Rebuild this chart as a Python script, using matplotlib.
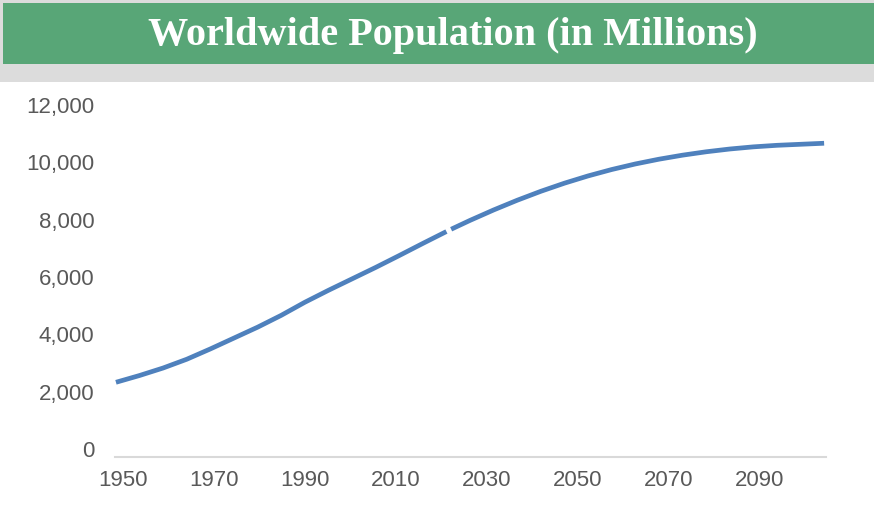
import matplotlib.pyplot as plt
from matplotlib.patches import Rectangle
from matplotlib.ticker import FuncFormatter
from matplotlib.transforms import ScaledTranslation

# historical estimates and projection (millions)
hist_years = [1950, 1955, 1960, 1965, 1970, 1975, 1980, 1985, 1990, 1995,
              2000, 2005, 2010, 2015, 2020]
hist_pop = [2536, 2773, 3035, 3340, 3700, 4079, 4458, 4871, 5327, 5744,
            6143, 6542, 6957, 7380, 7795]

proj_years = [2021, 2025, 2030, 2035, 2040, 2045, 2050, 2055, 2060, 2065,
              2070, 2075, 2080, 2085, 2090, 2095, 2100]
proj_pop = [7875, 8184, 8548, 8887, 9199, 9482, 9735, 9958, 10152, 10318,
            10459, 10577, 10674, 10749, 10803, 10839, 10875]

tick_years = [1950, 1970, 1990, 2010, 2030, 2050, 2070, 2090]
y_ticks = [0, 2000, 4000, 6000, 8000, 10000, 12000]

title = 'Worldwide Population (in Millions)'
line_color = '#4F81BD'
label_color = '#595959'

fig = plt.figure(figsize=(8.74, 5.13), dpi=100)
W, H = 874, 513

# gray header band and green title box
fig.patches.append(Rectangle((0, 1 - 82 / H), 1, 82 / H, transform=fig.transFigure,
                             facecolor='#dcdcdc', edgecolor='none', zorder=0))
fig.patches.append(Rectangle((3 / W, 1 - 64 / H), 1, 61 / H, transform=fig.transFigure,
                             facecolor='#58A677', edgecolor='none', zorder=1))
fig.text(453 / W, 1 - 36 / H, title, ha='center', va='center', color='white',
         fontsize=29, fontweight='bold', family='Liberation Serif')

# plot area: zero sits at y=455 px, the axis line at 457 px
ax = fig.add_axes([115 / W, (H - 457) / H, 711 / W, (457 - 111) / H])
ax.plot(hist_years, hist_pop, color=line_color, lw=3.4, solid_capstyle='butt')
ax.plot(proj_years, proj_pop, color=line_color, lw=3.4, solid_capstyle='butt')

ax.set_xlim(1949.8, 2100.4)
ax.set_ylim(-70, 12000)

# Excel-style category labels drift a little against the real years
label_pos = [1951.6 + i * 19.25 for i in range(len(tick_years))]
ax.set_xticks(label_pos, labels=[str(y) for y in tick_years])
ax.set_yticks(y_ticks)
ax.yaxis.set_major_formatter(FuncFormatter(lambda v, p: f'{int(v):,}'))

for s in ['top', 'right', 'left']:
    ax.spines[s].set_visible(False)
ax.spines['bottom'].set_color('#d9d9d9')
ax.spines['bottom'].set_linewidth(1.5)
ax.tick_params(length=0, labelsize=16, labelcolor=label_color)
ax.tick_params(axis='x', pad=9)
ax.tick_params(axis='y', pad=15)
for lbl in ax.get_xticklabels() + ax.get_yticklabels():
    lbl.set_family('Liberation Sans')
# y labels sit a few pixels above their values in the original
shift = ScaledTranslation(0, 6 / 100, fig.dpi_scale_trans)
for lbl in ax.get_yticklabels():
    lbl.set_transform(lbl.get_transform() + shift)

fig.savefig('out.png', dpi=100)
